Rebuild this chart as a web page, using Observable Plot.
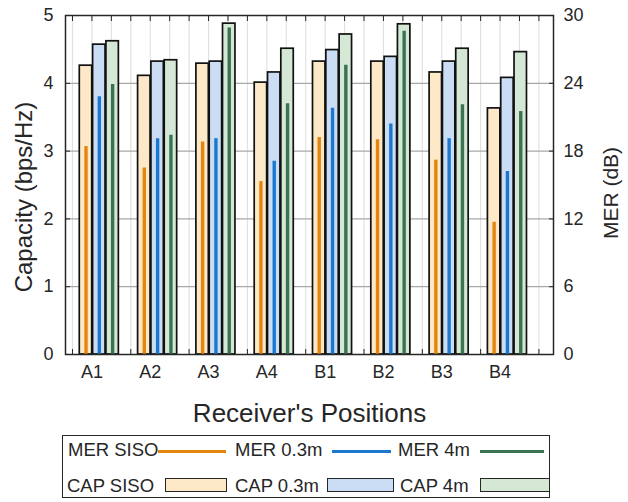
<!DOCTYPE html>
<html>
<head>
<meta charset="utf-8">
<script src="https://cdn.jsdelivr.net/npm/d3@7"></script>
<script src="https://cdn.jsdelivr.net/npm/@observablehq/plot@0.6"></script>
<style>
  html, body { margin: 0; padding: 0; background: #fff; }
  #wrap { position: relative; width: 628px; height: 502px; font-family: 'Liberation Sans', Arial, sans-serif; color: #262626; }
  #legend { position: absolute; left: 62px; top: 435px; width: 488px; height: 63px; border: 1.5px solid #262626; background: #fff; box-sizing: border-box; }
  .lt { position: absolute; font-size: 18.5px; line-height: 20px; white-space: nowrap; color: #262626; }
  .ll { position: absolute; height: 3px; }
  .lr { position: absolute; border: 1.5px solid #262626; box-sizing: border-box; }
</style>
</head>
<body>
<div id="wrap"><div id="chart"></div><div id="legend"></div></div>
<script>
// ---- data ----
const positions = ["A1", "A2", "A3", "A4", "B1", "B2", "B3", "B4"];
const seriesNames = ["SISO", "0.3m", "4m"];
// Capacity (bps/Hz)
const capSISO = [4.26, 4.11, 4.29, 4.01, 4.32, 4.32, 4.16, 3.63];
const cap03   = [4.57, 4.32, 4.32, 4.16, 4.49, 4.39, 4.32, 4.08];
const cap4    = [4.62, 4.34, 4.88, 4.51, 4.72, 4.87, 4.51, 4.46];
// MER (dB)
const merSISO = [18.4, 16.5, 18.8, 15.3, 19.2, 19.0, 17.2, 11.7];
const mer03   = [22.8, 19.1, 19.1, 17.1, 21.8, 20.4, 19.1, 16.2];
const mer4    = [23.9, 19.4, 28.9, 22.2, 25.6, 28.6, 22.1, 21.5];
const capTicks = [0, 1, 2, 3, 4, 5];
const merTicks = [0, 6, 12, 18, 24, 30];
const legendMer = ["MER SISO", "MER 0.3m", "MER 4m"];
const legendCap = ["CAP SISO", "CAP 0.3m", "CAP 4m"];

// ---- styles ----
const merColors = ["#E6850E", "#1A78CF", "#3B7352"];
const capColors = ["#FDE9C8", "#CADDF5", "#D4E8D5"];

const caps = [capSISO, cap03, cap4];
const mers = [merSISO, mer03, mer4];
const rows = positions.flatMap((p, i) => seriesNames.map((s, j) => ({pos: p, i, j, cap: caps[j][i], mer: mers[j][i]})));

// layout in slot units: 3 slots per position
const center = d => 3 * d.i + 1.38 + (d.j - 1) * 0.685;
const halfW = 0.32;
const merScale = 30 / 5; // dB per capacity unit (right axis)
const slots = d3.range(0, 25);
const labelSlots = positions.map((p, i) => 3 * i + 1);

const chart = Plot.plot({
  width: 628,
  height: 432,
  marginTop: 15,
  marginBottom: 78,
  marginLeft: 65,
  marginRight: 75,
  style: {fontFamily: "'Liberation Sans', Arial, sans-serif", fontSize: "18px", color: "#262626", background: "white"},
  x: {type: "linear", domain: [-0.36, 24.75]},
  y: {domain: [0, 5]},
  marks: [
    Plot.ruleX(slots, {stroke: "#e2e2e2", strokeWidth: 1.2}),
    Plot.ruleY([1, 2, 3, 4], {stroke: "#a8a8a8", strokeWidth: 1.3}),
    Plot.axisX(slots, {anchor: "top", tickSize: -5, tickFormat: () => "", label: null, stroke: "#262626"}),
    Plot.axisX(slots, {anchor: "bottom", tickSize: -5, tickFormat: () => "", label: null, stroke: "#262626"}),
    Plot.rect(rows, {x1: d => center(d) - halfW, x2: d => center(d) + halfW, y1: 0, y2: "cap",
      fill: d => capColors[d.j], stroke: "#111", strokeWidth: 1.7}),
    Plot.ruleX(rows, {x: center, y1: 0, y2: d => d.mer / merScale, stroke: d => merColors[d.j], strokeWidth: 3.4}),
    Plot.axisX(labelSlots, {anchor: "bottom", tickSize: 0, tickPadding: 11, fontSize: 18,
      tickFormat: d => positions[(d - 1) / 3], label: null}),
    Plot.axisY(capTicks, {anchor: "left", tickSize: -5, tickPadding: 17, fontSize: 18, label: null, stroke: "#262626",
      tickFormat: d => String(d)}),
    Plot.axisY(capTicks, {anchor: "right", tickSize: -5, tickPadding: 15, fontSize: 18, label: null, stroke: "#262626",
      tickFormat: d => String(merTicks[capTicks.indexOf(d)])}),
    Plot.frame({stroke: "#262626", strokeWidth: 1.5}),
    Plot.text(["Receiver's Positions"], {frameAnchor: "bottom", text: d => d, dy: 59, lineAnchor: "middle", textAnchor: "middle", fontSize: 26, fill: "#262626"}),
    Plot.text(["Capacity (bps/Hz)"], {frameAnchor: "left", text: d => d, rotate: -90, dx: -41, dy: 12, textAnchor: "middle", lineAnchor: "middle", fontSize: 24, fill: "#262626"}),
    Plot.text(["MER (dB)"], {frameAnchor: "right", text: d => d, rotate: -90, dx: 58, dy: 8, textAnchor: "middle", lineAnchor: "middle", fontSize: 21, fill: "#262626"})
  ]
});
document.getElementById("chart").appendChild(chart);

// ---- legend ----
const legend = document.getElementById("legend");
const rowMerText = [5, 172, 335];
const rowMerLine = [[95, 163], [269, 328], [417, 481]];
const rowCapText = [4, 172, 337];
const rowCapRect = [[102, 164], [264, 331], [417, 487]];
legendMer.forEach((name, j) => {
  const t = document.createElement("div");
  t.className = "lt"; t.textContent = name;
  t.style.left = rowMerText[j] + "px"; t.style.top = "4px";
  legend.appendChild(t);
  const l = document.createElement("div");
  l.className = "ll";
  l.style.left = rowMerLine[j][0] + "px"; l.style.width = (rowMerLine[j][1] - rowMerLine[j][0]) + "px";
  l.style.top = "14px"; l.style.background = merColors[j];
  legend.appendChild(l);
});
legendCap.forEach((name, j) => {
  const t = document.createElement("div");
  t.className = "lt"; t.textContent = name;
  t.style.left = rowCapText[j] + "px"; t.style.top = "40px";
  legend.appendChild(t);
  const r = document.createElement("div");
  r.className = "lr";
  r.style.left = rowCapRect[j][0] + "px"; r.style.width = (rowCapRect[j][1] - rowCapRect[j][0]) + "px";
  r.style.top = "42px"; r.style.height = "14px"; r.style.background = capColors[j];
  legend.appendChild(r);
});
</script>
</body>
</html>
